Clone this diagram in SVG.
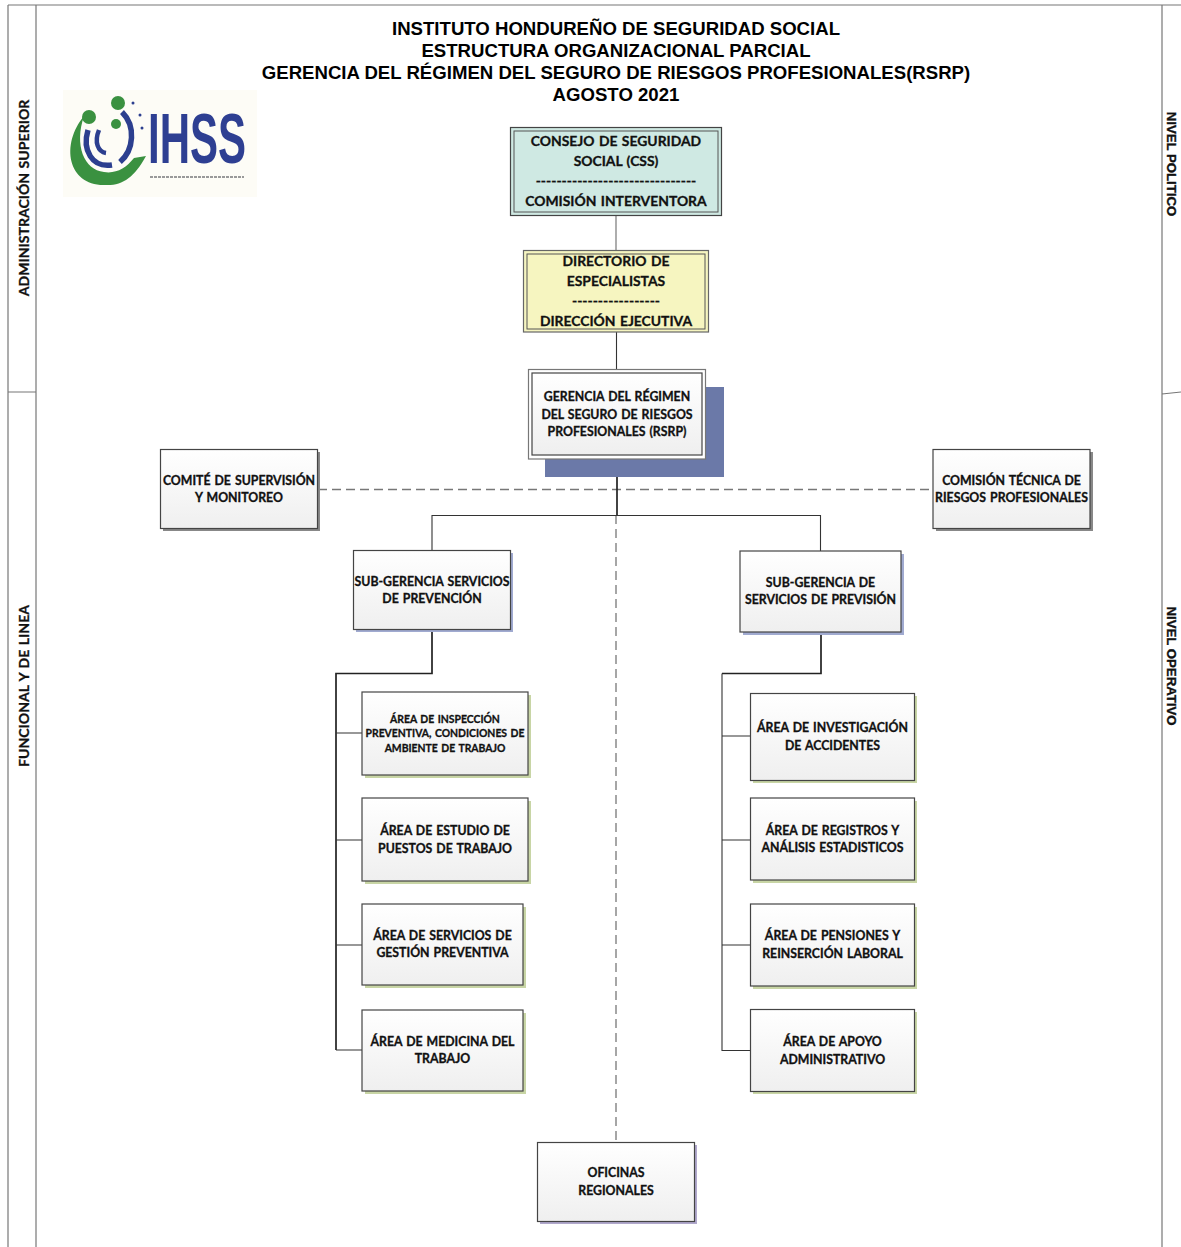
<svg xmlns="http://www.w3.org/2000/svg" width="1181" height="1247" viewBox="0 0 1181 1247">
<style>
text{font-family:"Lato","Carlito","Open Sans",sans-serif;font-weight:700;fill:#111;text-anchor:middle;stroke:#111;stroke-width:.3;word-spacing:1px}
.t{font-family:"Liberation Sans",Arial,sans-serif;font-size:18.6px;fill:#000;stroke:none;word-spacing:0}
.s{font-family:"Liberation Sans",Arial,sans-serif;font-size:13.2px;stroke:#111;stroke-width:.35;word-spacing:0}
.big{font-size:13.9px}
.n{font-size:12.3px}
.sm{font-size:10.4px}
.lane{font-size:14.1px}
.box{fill:url(#g);stroke:#444;stroke-width:1.2}
.c{fill:none;stroke:#333;stroke-width:1.1}
.th{fill:none;stroke:#222;stroke-width:1.7}
.d{fill:none;stroke:#777;stroke-width:1.3;stroke-dasharray:9 5}
.l{fill:none;stroke:#777;stroke-width:1.2}
</style>
<defs>
<linearGradient id="g" x1="0" y1="0" x2="0" y2="1"><stop offset="0" stop-color="#fff"/><stop offset="1" stop-color="#efefef"/></linearGradient>
</defs>
<rect width="1181" height="1247" fill="#fff"/>
<g id="frame">
<path class="l" d="M8 5H1181M8 5V1247M36 5V1247M1162 5V1247M8 392H36M1162 394L1181 392"/>
</g>
<g id="lanes">
<text class="lane" transform="translate(29,198) rotate(-90)">ADMINISTRACIÓN SUPERIOR</text>
<text class="lane" transform="translate(29,686) rotate(-90)">FUNCIONAL Y DE LINEA</text>
<text class="s" transform="translate(1167,164) rotate(90)">NIVEL POLITICO</text>
<text class="s" transform="translate(1167,666) rotate(90)">NIVEL OPERATIVO</text>
</g>
<g id="title">
<text class="t" x="616" y="35">INSTITUTO HONDUREÑO DE SEGURIDAD SOCIAL</text>
<text class="t" x="616" y="57">ESTRUCTURA ORGANIZACIONAL PARCIAL</text>
<text class="t" x="616" y="79">GERENCIA DEL RÉGIMEN DEL SEGURO DE RIESGOS PROFESIONALES(RSRP)</text>
<text class="t" x="616" y="101">AGOSTO 2021</text>
</g>
<g id="logo">
<rect x="63" y="90" width="194" height="107" fill="#fdfcf6"/>
<path d="M84 116C60 145 68 186 105 185C122 186 134 178 146 156L134 158C126 168 116 174 104 172C84 170 74 145 84 116Z" fill="#3a9140"/>
<circle cx="118" cy="103" r="7" fill="#3a9140"/>
<circle cx="89" cy="117" r="7" fill="#3a9140"/>
<circle cx="116" cy="124" r="5" fill="#3a9140"/>
<path d="M88 130C82 150 92 168 112 165M122 112C136 126 134 150 120 162" fill="none" stroke="#2c3f8f" stroke-width="5.500"/>
<path d="M99 130C94 142 98 152 106 153" fill="none" stroke="#2c3f8f" stroke-width="4.500"/>
<circle cx="133" cy="103" r="1.500" fill="#2c3f8f"/><circle cx="140" cy="115" r="1.500" fill="#2c3f8f"/><circle cx="142" cy="128" r="1.500" fill="#2c3f8f"/>
<text transform="translate(197,163) scale(0.84,1.39)" style="font-family:'Liberation Sans',sans-serif;font-size:50px;font-weight:700;fill:#2e3f92;stroke:none;word-spacing:0">IHSS</text>
<path d="M150 177H244" stroke="#999" stroke-width="2" stroke-dasharray="3 1"/>
</g>
<g id="connectors">
<path class="l" d="M616 215V250" stroke-width="1.5"/>
<path class="c" d="M616.5 332V369"/>
<path class="d" d="M318 489.500H933"/>
<path class="d" d="M616 515V1142"/>
<path class="th" d="M617 459V515"/>
<path class="c" d="M432 550V515.500H820.500V551"/>
<path class="th" d="M432 630V673.500H336V1050"/>
<path class="c" d="M336 733H362M336 840H362M336 945H362M336 1050H362"/>
<path class="th" d="M821 632V673.500H722"/>
<path class="c" d="M722 673.500V1050.500H751M722 736H751M722 840H751M722 945H751"/>
</g>
<g id="consejo">
<rect x="510.500" y="127.500" width="211" height="88" fill="#cfe9e3" stroke="#444" stroke-width="1.2"/>
<rect x="514" y="131" width="204" height="81" fill="#cfe9e3" stroke="#555"/>
<text class="big" x="616" y="146">CONSEJO DE SEGURIDAD</text>
<text class="big" x="616" y="166">SOCIAL (CSS)</text>
<text class="big" x="616" y="186">-------------------------------</text>
<text class="big" x="616" y="205.500">COMISIÓN INTERVENTORA</text>
</g>
<g id="directorio">
<rect x="523.500" y="250.500" width="185" height="81.500" fill="#f6f5c0" stroke="#666" stroke-width="1.2"/>
<rect x="527" y="254" width="178" height="75" fill="#f6f5c0" stroke="#555"/>
<text class="big" x="616" y="266">DIRECTORIO DE</text>
<text class="big" x="616" y="286">ESPECIALISTAS</text>
<text class="big" x="616" y="306">-----------------</text>
<text class="big" x="616" y="326">DIRECCIÓN EJECUTIVA</text>
</g>
<g id="gerencia">
<rect x="545" y="387" width="179" height="90" fill="#6b79a8"/>
<rect x="528.500" y="369.500" width="177" height="89.500" fill="#fff" stroke="#777" stroke-width="1.2"/>
<rect x="532" y="373" width="170" height="82" class="box"/>
<text class="n" x="617" y="401">GERENCIA DEL RÉGIMEN</text>
<text class="n" x="617" y="419">DEL SEGURO DE RIESGOS</text>
<text class="n" x="617" y="436">PROFESIONALES (RSRP)</text>
</g>
<g id="comite">
<rect x="163" y="452" width="157" height="79" fill="#888"/>
<rect x="160.500" y="449.500" width="157" height="79" class="box"/>
<text class="n" x="239" y="485">COMITÉ DE SUPERVISIÓN</text>
<text class="n" x="239" y="502">Y MONITOREO</text>
</g>
<g id="comision">
<rect x="936" y="452" width="157" height="79" fill="#888"/>
<rect x="933" y="449.500" width="157" height="79" class="box"/>
<text class="n" x="1011.500" y="485">COMISIÓN TÉCNICA DE</text>
<text class="n" x="1011.500" y="502">RIESGOS PROFESIONALES</text>
</g>
<g id="sub-prevencion">
<rect x="356" y="553" width="157" height="79" fill="#a0aad0"/>
<rect x="353.500" y="550.500" width="157" height="79" class="box"/>
<text class="n" x="432" y="586">SUB-GERENCIA SERVICIOS</text>
<text class="n" x="432" y="603">DE PREVENCIÓN</text>
</g>
<g id="sub-prevision">
<rect x="743" y="554" width="161" height="81" fill="#a0aad0"/>
<rect x="740" y="551" width="161" height="81" class="box"/>
<text class="n" x="820.500" y="587">SUB-GERENCIA DE</text>
<text class="n" x="820.500" y="604">SERVICIOS DE PREVISIÓN</text>
</g>
<g id="area-inspeccion">
<rect x="365" y="695" width="166" height="83" fill="#c8d5a5"/>
<rect x="362" y="692" width="166" height="83" class="box"/>
<text class="sm" x="445" y="723">ÁREA DE INSPECCIÓN</text>
<text class="sm" x="445" y="737">PREVENTIVA, CONDICIONES DE</text>
<text class="sm" x="445" y="752">AMBIENTE DE TRABAJO</text>
</g>
<g id="area-estudio">
<rect x="365" y="801" width="166" height="83" fill="#c8d5a5"/>
<rect x="362" y="798" width="166" height="83" class="box"/>
<text class="n" x="445" y="835">ÁREA DE ESTUDIO DE</text>
<text class="n" x="445" y="853">PUESTOS DE TRABAJO</text>
</g>
<g id="area-servicios">
<rect x="365" y="907" width="161" height="81" fill="#c8d5a5"/>
<rect x="362" y="904" width="161" height="81" class="box"/>
<text class="n" x="442.500" y="940">ÁREA DE SERVICIOS DE</text>
<text class="n" x="442.500" y="957">GESTIÓN PREVENTIVA</text>
</g>
<g id="area-medicina">
<rect x="365" y="1013" width="161" height="81" fill="#c8d5a5"/>
<rect x="362" y="1010" width="161" height="81" class="box"/>
<text class="n" x="442.500" y="1046">ÁREA DE MEDICINA DEL</text>
<text class="n" x="442.500" y="1063">TRABAJO</text>
</g>
<g id="area-investigacion">
<rect x="753" y="696" width="164" height="87" fill="#c8d5a5"/>
<rect x="750.500" y="693.500" width="164" height="87" class="box"/>
<text class="n" x="832.500" y="732">ÁREA DE INVESTIGACIÓN</text>
<text class="n" x="832.500" y="750">DE ACCIDENTES</text>
</g>
<g id="area-registros">
<rect x="753" y="801" width="164" height="82" fill="#c8d5a5"/>
<rect x="750.500" y="798" width="164" height="82" class="box"/>
<text class="n" x="832.500" y="835">ÁREA DE REGISTROS Y</text>
<text class="n" x="832.500" y="852">ANÁLISIS ESTADISTICOS</text>
</g>
<g id="area-pensiones">
<rect x="753" y="907" width="164" height="82" fill="#c8d5a5"/>
<rect x="750.500" y="904" width="164" height="82" class="box"/>
<text class="n" x="832.500" y="940">ÁREA DE PENSIONES Y</text>
<text class="n" x="832.500" y="958">REINSERCIÓN LABORAL</text>
</g>
<g id="area-apoyo">
<rect x="753" y="1012" width="164" height="82" fill="#c8d5a5"/>
<rect x="750.500" y="1009.500" width="164" height="82" class="box"/>
<text class="n" x="832.500" y="1046">ÁREA DE APOYO</text>
<text class="n" x="832.500" y="1064">ADMINISTRATIVO</text>
</g>
<g id="oficinas">
<rect x="540" y="1145" width="157" height="79" fill="#b0a8cc"/>
<rect x="537.500" y="1142.500" width="157" height="79" class="box"/>
<text class="n" x="616" y="1177">OFICINAS</text>
<text class="n" x="616" y="1195">REGIONALES</text>
</g>
</svg>
